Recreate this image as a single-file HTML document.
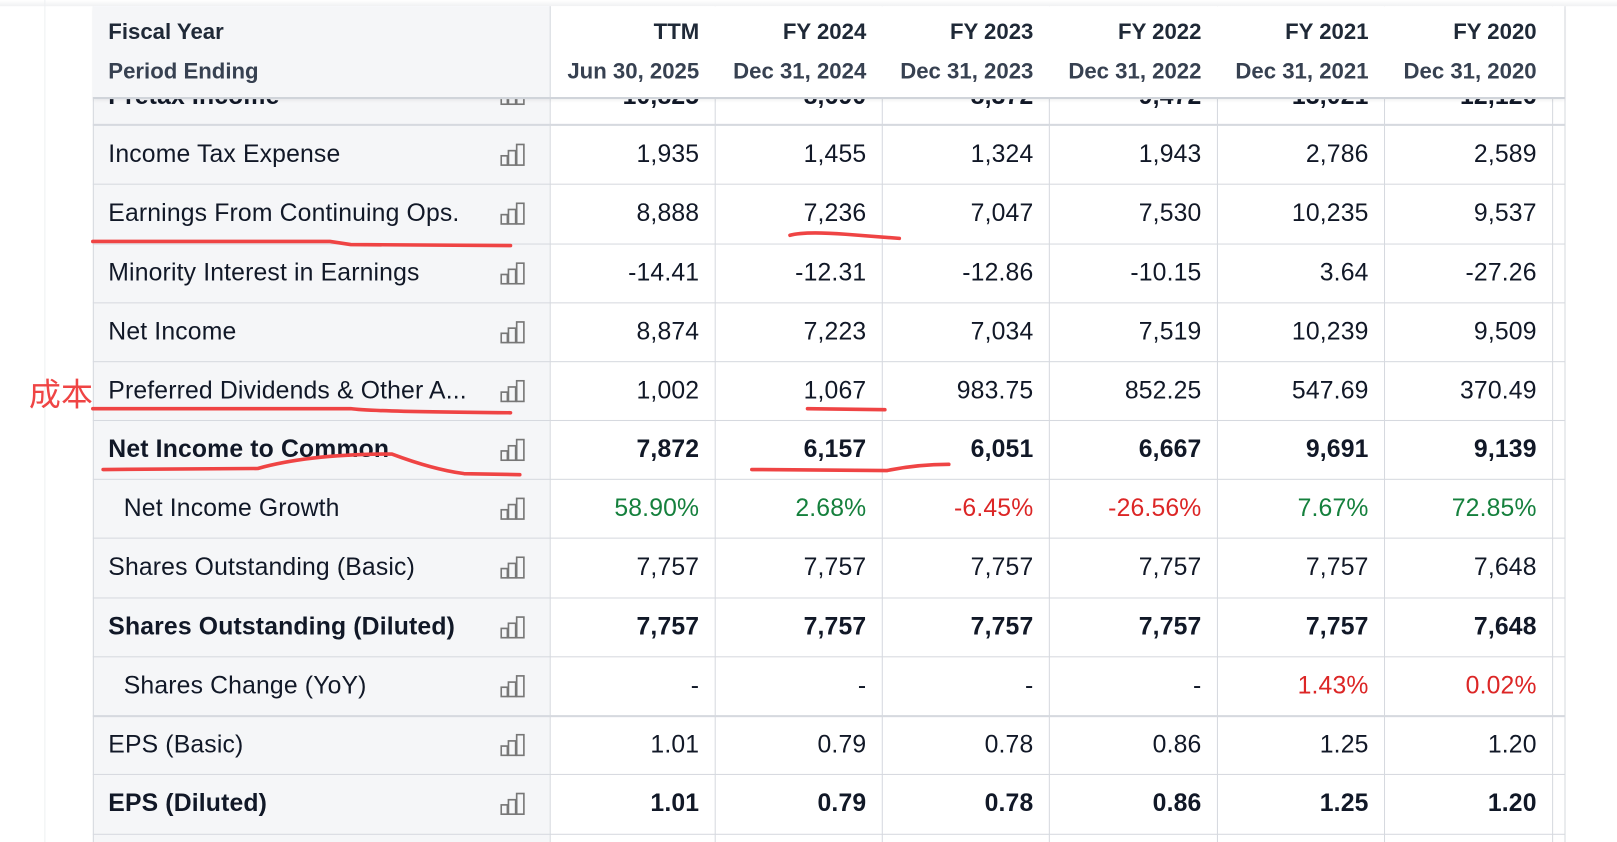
<!DOCTYPE html>
<html><head><meta charset="utf-8"><style>
html,body{margin:0;padding:0;background:#fff;width:1617px;height:842px;overflow:hidden}
#w{position:absolute;left:0;top:0;width:1568px;height:816px;transform:scale(1.0313,1.0319);transform-origin:0 0;font-family:"Liberation Sans","Noto Sans CJK SC",sans-serif;color:#111827}
.vl{position:absolute;top:0;bottom:0;width:1px;background:#d6d9df}
.hl{position:absolute;left:90px;width:1427px;height:1px;background:#d6d9df}
.lab{position:absolute;left:90px;width:443px;background:#f5f6f8}
.t{position:absolute;font-size:24px;letter-spacing:0.15px;white-space:nowrap;line-height:28px}
.h{font-size:21.5px;letter-spacing:0}
.r{text-align:right;width:160px}
.b{font-weight:bold}
.g{color:#15803d}.rd{color:#dc2626}
.ic{position:absolute;left:485px;width:24px;height:22px}
</style></head><body><div id="w">
<div style="position:absolute;left:0;top:0;width:1568px;height:6px;background:linear-gradient(#fff,#f0f1f3)"></div>
<div class="vl" style="left:43px;background:#eef0f2"></div>
<div class="lab" style="top:6px;height:810px"></div>
<div class="vl" style="left:90px;top:6px"></div>
<div class="vl" style="left:533px;top:6px"></div>
<div class="vl" style="left:693px;top:6px"></div>
<div class="vl" style="left:855px;top:6px"></div>
<div class="vl" style="left:1017px;top:6px"></div>
<div class="vl" style="left:1180px;top:6px"></div>
<div class="vl" style="left:1342px;top:6px"></div>
<div class="vl" style="left:1505px;top:6px"></div>
<div class="vl" style="left:1517px;top:6px"></div>
<div id="rows"></div>
<div style="position:absolute;left:90px;top:6px;width:1427px;height:88px;background:#fff;border-bottom:2px solid #d0d4da;box-shadow:0 2px 3px rgba(0,0,0,0.06)">
<div style="position:absolute;left:0;top:0;width:443px;height:88px;background:#f5f6f8;border-right:1px solid #d6d9df"></div>
<div class="t h b" style="left:15px;top:11px;color:#1f2937">Fiscal Year</div>
<div class="t h b" style="left:15px;top:49px;color:#374151">Period Ending</div>
<div id="hdr"></div>
</div>
<div class="t" style="left:28px;top:362px;font-size:31px;color:#ef4444;line-height:36px;font-family:'Noto Sans CJK SC',sans-serif">成本</div>
<svg style="position:absolute;left:0;top:0" width="1568" height="816">
<g fill="none" stroke="#ef4444" stroke-width="3.5" stroke-linecap="round">
<path d="M90 234 L320 234 L340 237 L495 238"/>
<path d="M766 228 Q780 224 820 227 L872 231"/>
<path d="M90 396 L340 396 Q360 399 495 400"/>
<path d="M783 396 L858 397"/>
<path d="M100 455 L250 454 Q300 440 380 440 Q420 455 450 459 L504 460"/>
<path d="M729 455 L860 456 Q890 450 920 450"/>
</g></svg>
</div>
<script>
const periods=["TTM","FY 2024","FY 2023","FY 2022","FY 2021","FY 2020"];
const periodEnds=["Jun 30, 2025","Dec 31, 2024","Dec 31, 2023","Dec 31, 2022","Dec 31, 2021","Dec 31, 2020"];
const labels=["Income Tax Expense","Earnings From Continuing Ops.","Minority Interest in Earnings","Net Income","Preferred Dividends & Other A...","Net Income to Common","Net Income Growth","Shares Outstanding (Basic)","Shares Outstanding (Diluted)","Shares Change (YoY)","EPS (Basic)","EPS (Diluted)"];
const bold=[0,0,0,0,0,1,0,0,1,0,0,1];
const indent=[0,0,0,0,0,0,1,0,0,1,0,0];
const pretaxValues=["10,825","8,690","8,372","9,472","13,021","12,126"];
const ttm=["1,935","8,888","-14.41","8,874","1,002","7,872","58.90%","7,757","7,757","-","1.01","1.01"];
const fy2024=["1,455","7,236","-12.31","7,223","1,067","6,157","2.68%","7,757","7,757","-","0.79","0.79"];
const fy2023=["1,324","7,047","-12.86","7,034","983.75","6,051","-6.45%","7,757","7,757","-","0.78","0.78"];
const fy2022=["1,943","7,530","-10.15","7,519","852.25","6,667","-26.56%","7,757","7,757","-","0.86","0.86"];
const fy2021=["2,786","10,235","3.64","10,239","547.69","9,691","7.67%","7,757","7,757","1.43%","1.25","1.25"];
const fy2020=["2,589","9,537","-27.26","9,509","370.49","9,139","72.85%","7,648","7,648","0.02%","1.20","1.20"];
const series=[ttm,fy2024,fy2023,fy2022,fy2021,fy2020];
const rights=[678,840,1002,1165,1327,1490];
const hdr=document.getElementById('hdr');
periods.forEach((p,i)=>{
 [p,periodEnds[i]].forEach((txt,k)=>{const d=document.createElement('div');d.className='t h b r';
 d.style.left=(rights[i]-90-160)+'px';d.style.top=(k?49:11)+'px';d.style.color=k?'#374151':'#1f2937';d.textContent=txt;
 
 hdr.appendChild(d);});
});
const R=document.getElementById('rows');
function line(y,h){const l=document.createElement('div');l.className='hl';l.style.top=y+'px';if(h)l.style.height=h+'px';

R.appendChild(l);}
function icon(y){const s=document.createElementNS('http://www.w3.org/2000/svg','svg');s.setAttribute('class','ic');s.style.top=y+'px';
s.setAttribute('viewBox','0 0 24 22');s.innerHTML='<g fill="none" stroke="#777" stroke-width="1.6"><rect x="1" y="12" width="6" height="9"/><rect x="8" y="7" width="7" height="14"/><rect x="16" y="1" width="7" height="20"/></g>';

R.appendChild(s);}
const p=document.createElement('div');p.className='t b';p.style.left='105px';p.style.top='80px';p.textContent='Pretax Income';

R.appendChild(p);
pretaxValues.forEach((v,i)=>{const d=document.createElement('div');d.className='t b r';d.style.left=(rights[i]-160)+'px';d.style.top='80px';d.textContent=v;

R.appendChild(d);});
icon(80);
line(120,2);
const tops=[121,178,236,293,350,407,464,521,579,636,693,750,808];
labels.forEach((lab,j)=>{const y=tops[j],h=tops[j+1]-y,ty=y+h/2-14;
 const l=document.createElement('div');l.className='t'+(bold[j]?' b':'');l.style.left=(indent[j]?120:105)+'px';l.style.top=ty+'px';l.textContent=lab;
 
 R.appendChild(l);
 series.forEach((s,i)=>{const v=s[j];const d=document.createElement('div');d.className='t r'+(bold[j]?' b':'');
 if(indent[j]&&v!=='-'){d.classList.add(lab==='Shares Change (YoY)'||v[0]==='-'?'rd':'g');}
 d.style.left=(rights[i]-160)+'px';d.style.top=ty+'px';d.textContent=v;
 
 R.appendChild(d);});
 icon(ty+3);
 line(tops[j+1],tops[j+1]===693?2:1);
});
</script></body></html>
